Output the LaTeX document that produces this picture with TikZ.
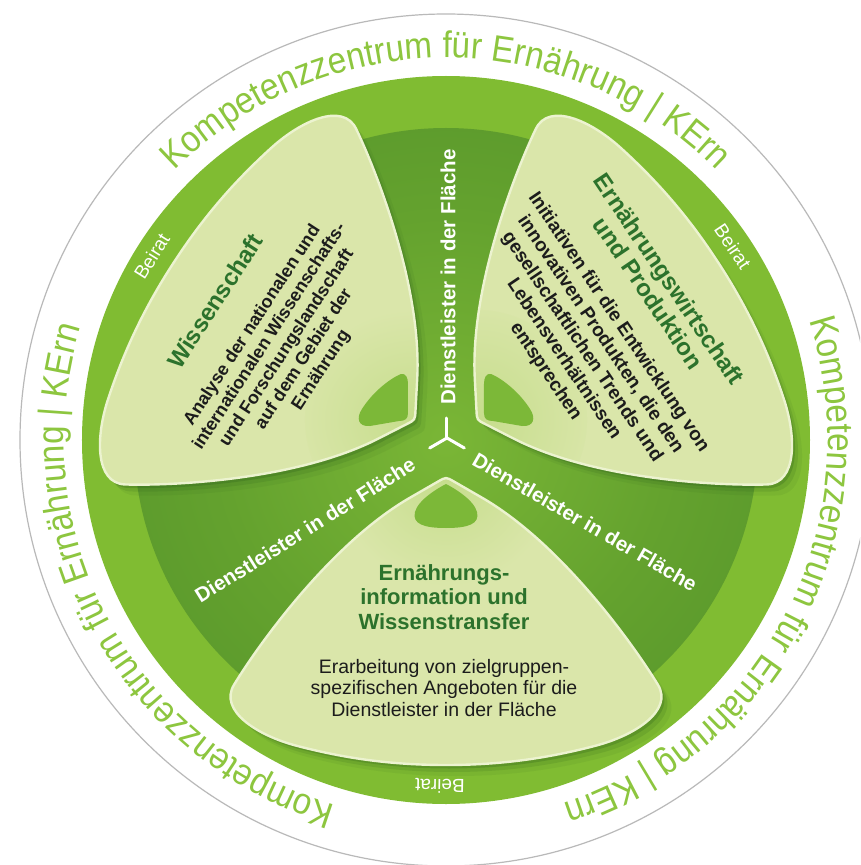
\documentclass[tikz,border=0pt]{standalone}
\usepackage{fontspec}
\setmainfont{Liberation Sans}
\newfontfamily\ringfont[FakeStretch=0.9]{Liberation Sans}
\usetikzlibrary{decorations.text}

\definecolor{ringgreen}{RGB}{128,188,50}
\definecolor{ringtext}{RGB}{141,198,63}
\definecolor{coreinner}{RGB}{122,182,54}
\definecolor{coremid}{RGB}{100,162,46}
\definecolor{coreouter}{RGB}{72,136,40}
\definecolor{leaffill}{RGB}{218,230,170}
\definecolor{leafrim}{RGB}{236,243,208}
\definecolor{leaftip}{RGB}{198,221,140}
\definecolor{domegreen}{RGB}{124,184,56}
\definecolor{titlegreen}{RGB}{44,114,44}
\definecolor{bodytext}{RGB}{28,28,28}
\definecolor{shadowgreen}{RGB}{40,90,25}
\definecolor{edgegray}{RGB}{185,185,185}

\pgfdeclareradialshading{coreshade}{\pgfpoint{0bp}{0bp}}{%
  color(0bp)=(coreinner); color(18bp)=(coremid); color(50bp)=(coreouter)}

% One leaf, pointing up the y axis: blunt inner tip, two sides running
% along the channels, rounded outer corners and a gently curved rim
\newcommand\leafpath{%
  (-7.8,41.45) .. controls (0,36.95) .. (7.8,41.45)
  -- (36,57.7)
  .. controls (113.9,102.7) and (185.9,202) .. (212,244.8)
  .. controls (227.5,270.7) and (188.7,295.4) .. (150,305.6)
  .. controls (101.7,318.3) and (55,325) .. (0,325)
  .. controls (-55,325) and (-101.7,318.3) .. (-150,305.6)
  .. controls (-188.7,295.4) and (-227.5,270.7) .. (-212,244.8)
  .. controls (-185.9,202) and (-113.9,102.7) .. (-36,57.7)
  -- cycle}

% small dome near the inner tip of the upper left leaf
\newcommand\sidedome{%
  (-45,66) .. controls (-40,67) and (-38,62) .. (-38,56)
  -- (-38,27) .. controls (-38,21) and (-41,19) .. (-47,19)
  -- (-76,14) .. controls (-88,13) and (-90,22) .. (-84,31)
  .. controls (-74,47) and (-57,61) .. (-45,66) -- cycle}

\begin{document}
\begin{tikzpicture}[x=1pt,y=1pt,
  dlabel/.style={text=white, inner sep=0pt,
    font=\fontsize{20.5}{24}\selectfont\bfseries},
  beirat/.style={text=white, inner sep=0pt,
    font=\fontsize{19}{22}\selectfont},
  leaftitle/.style={text=titlegreen, inner sep=0pt, align=center,
    font=\fontsize{24}{25}\selectfont\bfseries},
  leafbody/.style={text=bodytext, inner sep=0pt, align=center,
    font=\fontsize{18}{20.5}\selectfont\bfseries},
  rightbody/.style={leafbody, font=\fontsize{19}{22}\selectfont\bfseries},
  bottomtitle/.style={text=titlegreen, inner sep=0pt, align=center,
    font=\fontsize{22}{24.5}\selectfont\bfseries},
  bottombody/.style={text=bodytext, inner sep=0pt, align=center,
    font=\fontsize{19.5}{21.5}\selectfont},
  leafshadow/.style={fill=shadowgreen},
  leaf/.style={fill=leaffill},
  leafedge/.style={draw=leafrim, line width=2.4pt},
  dome/.style={fill=domegreen},
  yarm/.style={draw=white, line width=3pt, line cap=round}]

\useasboundingbox (-446,-425) rectangle (414,440);
\clip (-446,-425) rectangle (414,440);
\fill[white] (-446,-425) rectangle (414,440);

% outer white disc with its thin grey edge
\draw[draw=edgegray, line width=1.2pt, fill=white] (0,0) circle (426);

% lettering running round the white band
\foreach \cang in {90,-27,-152}{
  \path[decorate, decoration={text along path, text align=center,
      text format delimiters={[}{]},
      text={[\ringfont\fontsize{37}{40}\selectfont\color{ringtext}]Kompetenzzentrum für Ernährung | KErn}}]
    (\cang+75:382) arc[start angle=\cang+75, end angle=\cang-75, radius=382];
}

% green band and shaded core
\fill[ringgreen] (0,0) circle (364);
\shade[shading=coreshade] (0,0) circle (312);

% soft shadows of the three leaves
\foreach \ax in {147,33,-90}{
  \fill[leafshadow, opacity=0.08, shift={(10,-11)}, rotate=\ax-90] \leafpath;
  \fill[leafshadow, opacity=0.14, shift={(6,-7)}, rotate=\ax-90] \leafpath;
  \fill[leafshadow, opacity=0.24, shift={(3,-3.5)}, rotate=\ax-90] \leafpath;
}

% the three leaves
\foreach \ax in {147,33,-90}{
  \begin{scope}[rotate=\ax-90]
    \fill[leaf] \leafpath;
    \begin{scope}
      \clip \leafpath;
      \shade[inner color=leaftip, outer color=leaffill] (0,37) circle (110);
    \end{scope}
    \draw[leafedge] \leafpath;
  \end{scope}
}

% domes at the inner tips
\fill[dome] \sidedome;
\begin{scope}[xscale=-1]
  \fill[dome] \sidedome;
\end{scope}
\fill[dome] (0,-44) .. controls (8,-48) and (28,-60) .. (31,-72)
  .. controls (34,-84) and (22,-88) .. (0,-88)
  .. controls (-22,-88) and (-34,-84) .. (-31,-72)
  .. controls (-28,-60) and (-8,-48) .. (0,-44) -- cycle;

% white lettering in the three channels
\node[dlabel, rotate=90] (dtop) at (2,163) {Dienstleister in der Fläche};
\node[dlabel, rotate=32] (dleft) at (-141,-90) {Dienstleister in der Fläche};
\node[dlabel, rotate=-30] (dright) at (139,-82) {Dienstleister in der Fläche};

% hub symbol
\coordinate (hub) at (1,2);
\coordinate (armtop) at (1,22);
\coordinate (armleft) at (-16.3,-8);
\coordinate (armright) at (18.3,-8);
\draw[yarm] (hub) -- (armtop);
\draw[yarm] (hub) -- (armleft);
\draw[yarm] (hub) -- (armright);

% Beirat labels on the green band
\node[beirat, rotate=58] (beiratL) at (148:347) {Beirat};
\node[beirat, rotate=-56] (beiratR) at (34:346) {Beirat};
\node[beirat, rotate=179] (beiratB) at (-91:346) {Beirat};

% upper left leaf
\node[leaftitle, rotate=57] (titleL) at (-231,139) {Wissenschaft};
\node[leafbody, rotate=57] (bodyL) at (-159,92)
  {Analyse der nationalen und\\internationalen Wissenschafts-\\und Forschungslandschaft\\auf dem Gebiet der\\Ernährung};

% upper right leaf
\node[leaftitle, rotate=-56] (titleR) at (213,154)
  {Ernährungswirtschaft\\und Produktion};
\node[rightbody, rotate=-56] (bodyR) at (136,93)
  {Initiativen für die Entwicklung von\\innovativen Produkten, die den\\gesellschaftlichen Trends und\\Lebensverhältnissen\\entsprechen};

% bottom leaf
\node[bottomtitle] (titleB) at (-2,-157)
  {Ernährungs-\\information und\\Wissenstransfer};
\node[bottombody] (bodyB) at (-2,-248)
  {Erarbeitung von zielgruppen-\\spezifischen Angeboten für die\\Dienstleister in der Fläche};

\end{tikzpicture}
\end{document}
